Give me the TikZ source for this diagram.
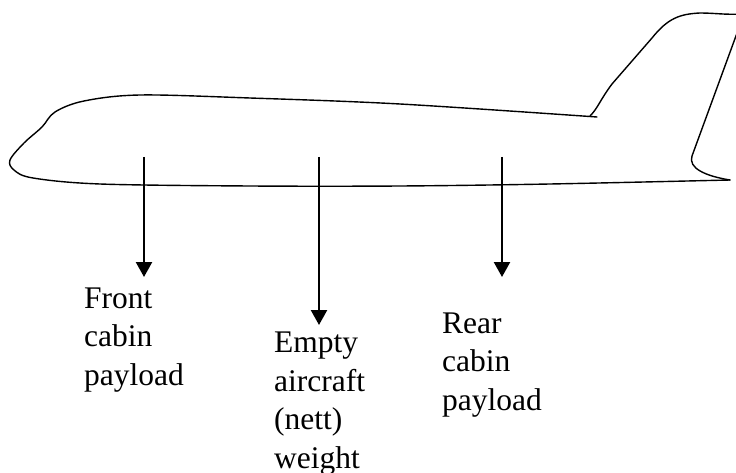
\documentclass[tikz,border=0pt]{standalone}
\usepackage{fontspec}
\setmainfont{Liberation Serif}
\usetikzlibrary{arrows.meta}
\begin{document}
\begin{tikzpicture}[x=1pt, y=-1pt]
        \tikzstyle{body} = [line width=1.4pt, line join=round, line cap=round]
        \tikzstyle{load} = [line width=2.4pt, -{Triangle[width=16pt,length=15pt]}]
        \tikzstyle{lbl} = [anchor=base west, inner sep=0pt, align=left, font=\fontsize{31.5}{38.5}\selectfont]
        \useasboundingbox (0,0) rectangle (736,473);
        \begin{scope}
            \clip (0,0) rectangle (736,473);
            % fuselage, nose and belly
            \draw [body] plot [smooth, tension=0.55] coordinates {(597,117) (400,104) (250,98) (140,95) (84,101) (55,112) (42,127) (24,143) (10,160) (14,170) (33,178) (100,184) (250,186) (400,186) (550,184) (730,180)};
            % fin
            \draw [body] (730,180) .. controls (705,176) and (688,168) .. (692,156) -- (744,14);
            \draw [body] (590,116) .. controls (598,108) and (600,100) .. (612,84) -- (652,38) .. controls (668,18) and (680,14) .. (700,13) .. controls (715,13) and (725,15) .. (744,14);
        \end{scope}
        \coordinate (fr) at (144,157); \coordinate (frtip) at (144,277);
        \coordinate (em) at (319,157); \coordinate (emtip) at (319,325);
        \coordinate (re) at (502,157); \coordinate (retip) at (502,277);
        \draw [load] (fr) -- (frtip);
        \draw [load] (em) -- (emtip);
        \draw [load] (re) -- (retip);
        % labels sit on the baseline of their last line
        \node [lbl] (frl) at (84,385) {Front\\cabin\\payload};
        \node [lbl] (eml) at (274,468) {Empty\\aircraft\\(nett)\\weight};
        \node [lbl] (rel) at (442,410) {Rear\\cabin\\payload};
\end{tikzpicture}
\end{document}
